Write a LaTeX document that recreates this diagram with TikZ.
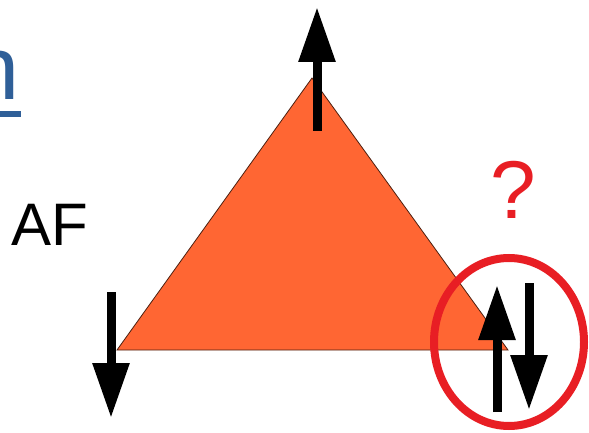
\documentclass[tikz,border=0pt]{standalone}
\usepackage{fontspec}
\setmainfont{Liberation Sans}
\usetikzlibrary{arrows.meta,shapes.geometric}
\definecolor{titleblue}{RGB}{47,95,152}
\definecolor{triorange}{RGB}{255,102,51}
\definecolor{qred}{RGB}{232,30,36}
\tikzset{
  spin/.style={line width=9pt, -{Triangle[width=35pt,length=55pt]}},
  tri/.style={fill=triorange, draw=black!70!triorange, line width=0.8pt},
  ring/.style={draw=qred, line width=8pt},
  lbl/.style={inner sep=0pt, anchor=base west}
}
\begin{document}
\begin{tikzpicture}[x=1pt,y=-1pt]
\useasboundingbox (0,0) rectangle (589,433);
% title fragment
\node[lbl, text=titleblue, font=\fontsize{90}{90}\selectfont] (t) at (-31,100) {n};
\fill[titleblue] (-5,111) rectangle (21,117);
% AF
\node[lbl, font=\fontsize{60}{60}\selectfont] (af) at (11,245) {AF};
% triangle
\coordinate (A) at (117,350);
\coordinate (B) at (312,78);
\coordinate (C) at (508,350);
\path[tri] (A) -- (B) -- (C) -- cycle;
% question mark
\node[lbl, text=qred, font=\fontsize{82}{82}\selectfont] (q) at (490,218) {?};
% ring
\node[ring, ellipse, minimum width=150pt, minimum height=168pt, inner sep=0pt] (r) at (509,342) {};
% spins
\coordinate (s1a) at (317,131);
\coordinate (s1b) at (317,7);
\coordinate (s2a) at (111,292);
\coordinate (s2b) at (111,418);
\coordinate (s3a) at (497,412);
\coordinate (s3b) at (497,285);
\coordinate (s4a) at (529,283);
\coordinate (s4b) at (529,410);
\draw[spin] (s1a) -- (s1b);
\draw[spin] (s2a) -- (s2b);
\draw[spin] (s3a) -- (s3b);
\draw[spin] (s4a) -- (s4b);
\end{tikzpicture}
\end{document}
